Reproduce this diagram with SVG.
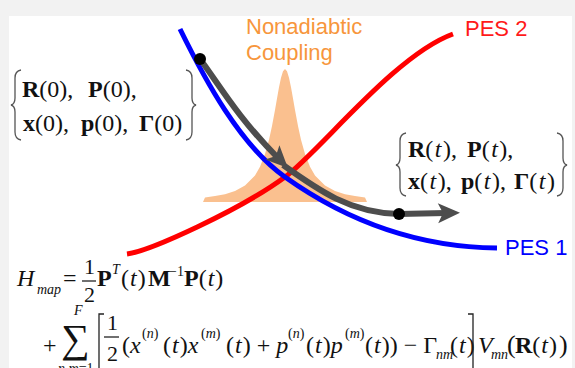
<svg xmlns="http://www.w3.org/2000/svg" width="575" height="368" viewBox="0 0 575 368">
<style>
.m{font-family:"Liberation Serif","Times New Roman",serif;font-size:24px;fill:#111}
.i{font-style:italic}
.b{font-weight:bold}
.s{font-size:14px}
.fr{font-size:22px}
.sans{font-family:"Liberation Sans",Arial,sans-serif;font-size:22px}
.brace{fill:none;stroke:#555;stroke-width:1.3}
.brk{fill:none;stroke:#222;stroke-width:1.3}
.curve{fill:none;stroke-width:5}
.traj{fill:none;stroke:#4d4d4d;stroke-width:6}
</style>
<defs>
<marker id="ah" markerUnits="userSpaceOnUse" orient="auto" overflow="visible" markerWidth="1" markerHeight="1" refX="0" refY="0">
<path d="M-8,-10 L14,0 L-8,10 L-3,0 Z" fill="#4d4d4d"/>
</marker>
</defs>
<rect width="575" height="368" fill="#f2f2f2"/>
<rect x="9" y="16" width="563" height="352" fill="#fff"/>

<g id="coupling">
<polygon fill="#fac08f" points="203,202 205,197.5 215,196.1 225,194.2 235,191 245,185.6 255,175.4 260,166.8 265,154.1 269,139.8 272,126.1 275,109.9 277,98.4 279,87.3 281,77.8 283,71.3 285,69 287,71.3 289,77.8 291,87.3 293,98.4 295,109.9 298,126.1 301,139.8 305,154.1 310,166.8 315,175.4 325,185.6 335,191 345,194.2 355,196.1 365,197.5 367,202"/>
<text class="sans" x="246" y="34" fill="#f7963c">Nonadiabtic</text>
<text class="sans" x="246" y="60" fill="#f7963c">Coupling</text>
</g>

<g id="pes2">
<path class="curve" stroke="#ff0000" d="M127,254 C150,251 240,210 285,177 C320,151 395,55 453,34"/>
<text class="sans" x="465" y="36" fill="#ff1a1a">PES 2</text>
</g>

<g id="pes1">
<path class="curve" stroke="#0000ff" d="M180,29 C205,80 240,145 285,177 C330,209 400,247 497,248"/>
<text class="sans" x="505" y="255" fill="#0000ff">PES 1</text>
</g>

<g id="connectors">
<path class="traj" d="M200,59 C218,83 238,118 278,158" marker-end="url(#ah)"/>
<path class="traj" d="M283,165 C318,190 350,213 399,214 L446,213" marker-end="url(#ah)"/>
</g>

<g id="start-point">
<circle cx="200" cy="59" r="6" fill="#000"/>
</g>
<g id="end-point">
<circle cx="399" cy="214" r="6" fill="#000"/>
</g>

<g id="initial-set">
<path class="brace" d="M21,70 Q15,71 15,78 L15,98 Q15,104 11,105 Q15,106 15,112 L15,132 Q15,139 21,140"/>
<path class="brace" d="M186,70 Q192,71 192,78 L192,98 Q192,104 196,105 Q192,106 192,112 L192,132 Q192,139 186,140"/>
<text class="m" y="97"><tspan x="22" class="b">R</tspan><tspan>(0),</tspan><tspan x="88" class="b">P</tspan><tspan>(0),</tspan></text>
<text class="m" y="131"><tspan x="23" class="b">x</tspan><tspan>(0),</tspan><tspan x="81" class="b">p</tspan><tspan>(0),</tspan><tspan x="139" class="b">Γ</tspan><tspan>(0)</tspan></text>
</g>

<g id="final-set">
<path class="brace" d="M406,133 Q400,134 400,141 L400,158 Q400,164 396,165 Q400,166 400,172 L400,188 Q400,195 406,196"/>
<path class="brace" d="M557,133 Q563,134 563,141 L563,158 Q563,164 567,165 Q563,166 563,172 L563,188 Q563,195 557,196"/>
<text class="m" y="157"><tspan x="408" class="b">R</tspan><tspan>(</tspan><tspan class="i" dx="1.5">t</tspan><tspan dx="1.5">),</tspan><tspan x="467" class="b">P</tspan><tspan>(</tspan><tspan class="i" dx="1.5">t</tspan><tspan dx="1.5">),</tspan></text>
<text class="m" y="189"><tspan x="408" class="b">x</tspan><tspan>(</tspan><tspan class="i" dx="1.5">t</tspan><tspan dx="1.5">),</tspan><tspan x="461" class="b">p</tspan><tspan>(</tspan><tspan class="i" dx="1.5">t</tspan><tspan dx="1.5">),</tspan><tspan x="514" class="b">Γ</tspan><tspan>(</tspan><tspan class="i" dx="1.5">t</tspan><tspan dx="1.5">)</tspan></text>
</g>

<g id="hamiltonian">
<text class="m i" x="17" y="286">H</text>
<text class="m i s" x="37" y="294">map</text>
<text class="m" x="63" y="286">=</text>
<text class="m fr" x="84" y="274">1</text>
<line x1="82" y1="281" x2="96" y2="281" stroke="#111" stroke-width="1.2"/>
<text class="m fr" x="84" y="302">2</text>
<text class="m b" x="97" y="286">P</text>
<text class="m i s" x="112" y="274">T</text>
<text class="m" x="121" y="286">(<tspan class="i" dx="1">t</tspan><tspan dx="1">)</tspan></text>
<text class="m b" x="148" y="286">M</text>
<text class="m s" x="169" y="276">−1</text>
<text class="m" x="184" y="286"><tspan class="b">P</tspan>(<tspan class="i" dx="1">t</tspan><tspan dx="1">)</tspan></text>

<text class="m" x="43" y="353">+</text>
<text class="m" x="61" y="352" style="font-size:40px">∑</text>
<text class="m i s" x="74" y="315">F</text>
<text class="m s" x="58" y="373"><tspan class="i">n</tspan>,<tspan class="i">m</tspan>=1</text>
<path class="brk" d="M104,314 L99,314 L99,370"/>
<text class="m fr" x="107" y="330">1</text>
<line x1="104" y1="337" x2="119" y2="337" stroke="#111" stroke-width="1.2"/>
<text class="m fr" x="107" y="361">2</text>
<text class="m" x="122" y="353">(<tspan class="i">x</tspan></text>
<text class="m s" x="142" y="338">(<tspan class="i">n</tspan>)</text>
<text class="m" x="163" y="353">(<tspan class="i" dx="1">t</tspan><tspan dx="1">)</tspan><tspan class="i">x</tspan></text>
<text class="m s" x="201" y="338">(<tspan class="i">m</tspan>)</text>
<text class="m" x="226" y="353">(<tspan class="i" dx="1">t</tspan><tspan dx="1">) + </tspan><tspan class="i">p</tspan></text>
<text class="m s" x="288" y="338">(<tspan class="i">n</tspan>)</text>
<text class="m" x="306" y="353">(<tspan class="i" dx="1">t</tspan><tspan dx="1">)</tspan><tspan class="i">p</tspan></text>
<text class="m s" x="345" y="338">(<tspan class="i">m</tspan>)</text>
<text class="m" x="365" y="353">(<tspan class="i" dx="1">t</tspan><tspan dx="1">)) − Γ</tspan></text>
<text class="m i s" x="436" y="359">nm</text>
<text class="m" x="450" y="353">(<tspan class="i" dx="1">t</tspan><tspan dx="1">)</tspan></text>
<path class="brk" d="M468,314 L473,314 L473,370"/>
<text class="m i" x="478" y="353">V</text>
<text class="m i s" x="491" y="359">mn</text>
<text class="m" x="507" y="353" style="font-size:26px">(</text>
<text class="m" x="515" y="353"><tspan class="b">R</tspan>(<tspan class="i" dx="1">t</tspan><tspan dx="1">)</tspan></text>
<text class="m" x="559" y="353" style="font-size:26px">)</text>
</g>
</svg>
